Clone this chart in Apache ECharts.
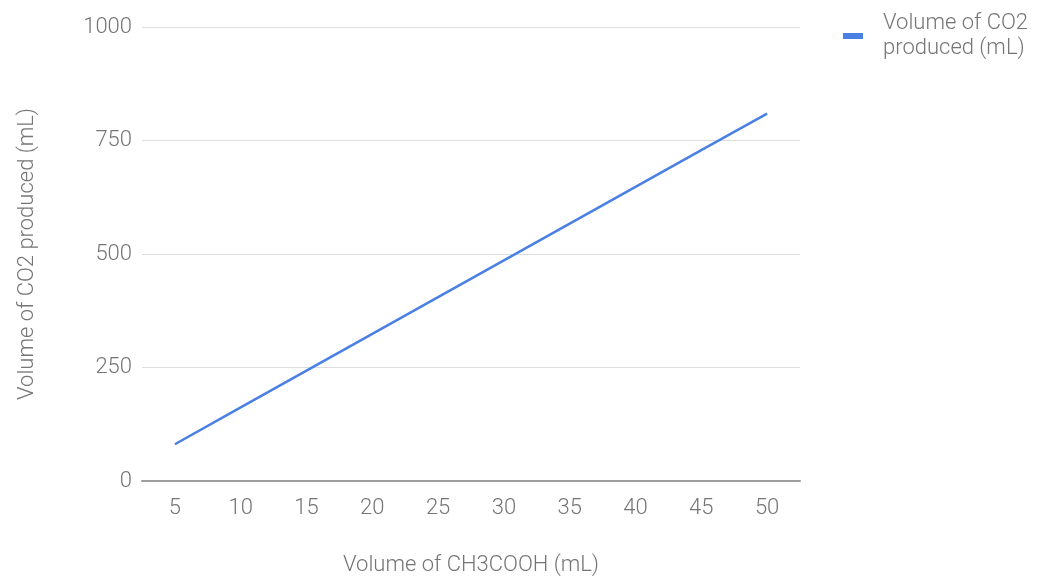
<!DOCTYPE html>
<html><head><meta charset="utf-8">
<script src="https://cdn.jsdelivr.net/npm/echarts@6/dist/echarts.min.js"></script>
<style>html,body{margin:0;padding:0;background:#fff}#c{width:1042px;height:577px}</style>
</head><body><div id="c"></div>
<script>
const categories = ['5','10','15','20','25','30','35','40','45','50'];
const co2Values = [81, 162, 243, 324, 405, 486, 567, 648, 729, 809];
const yTicks = [0, 250, 500, 750, 1000];
const seriesName = 'Volume of CO2 produced (mL)';

const chart = echarts.init(document.getElementById('c'));
const txt = '#757575';
const fs = 22;
chart.setOption({
  animation: false,
  textStyle: { fontFamily: 'Roboto' },
  grid: { left: 142, right: 242, top: 27, bottom: 96, containLabel: false, outerBoundsMode: 'none' },
  legend: {
    left: 838, top: 1, orient: 'vertical',
    itemWidth: 20, itemHeight: 6,
    icon: 'rect',
    textStyle: { color: txt, fontSize: fs, lineHeight: 25, fontFamily: 'Roboto', fontWeight: 300, padding: [10, 0, 0, 15] },
    data: [{ name: seriesName }],
    formatter: () => 'Volume of CO2\nproduced (mL)'
  },
  xAxis: {
    type: 'category', data: categories, boundaryGap: true,
    name: 'Volume of CH3COOH (mL)', nameLocation: 'middle', nameGap: 73,
    nameTextStyle: { color: txt, fontSize: fs, fontWeight: 300 },
    axisLine: { lineStyle: { color: '#9e9e9e', width: 2 } },
    axisTick: { show: false },
    axisLabel: { color: txt, fontSize: fs, fontWeight: 300, margin: 16 }
  },
  yAxis: {
    type: 'value', min: yTicks[0], max: yTicks[yTicks.length - 1], interval: 250,
    name: 'Volume of CO2 produced (mL)', nameLocation: 'middle', nameGap: 104,
    nameTextStyle: { color: txt, fontSize: fs, fontWeight: 300 },
    axisLine: { show: false }, axisTick: { show: false },
    axisLabel: { color: txt, fontSize: fs, fontWeight: 300, margin: 10, formatter: v => String(v) },
    splitLine: { lineStyle: { color: '#dddddd', width: 1 } }
  },
  series: [{
    name: seriesName, type: 'line', data: co2Values,
    showSymbol: false, symbol: 'none',
    lineStyle: { color: '#4a80e4', width: 2.5 },
    itemStyle: { color: '#4a80e4' }
  }]
});
</script></body></html>
